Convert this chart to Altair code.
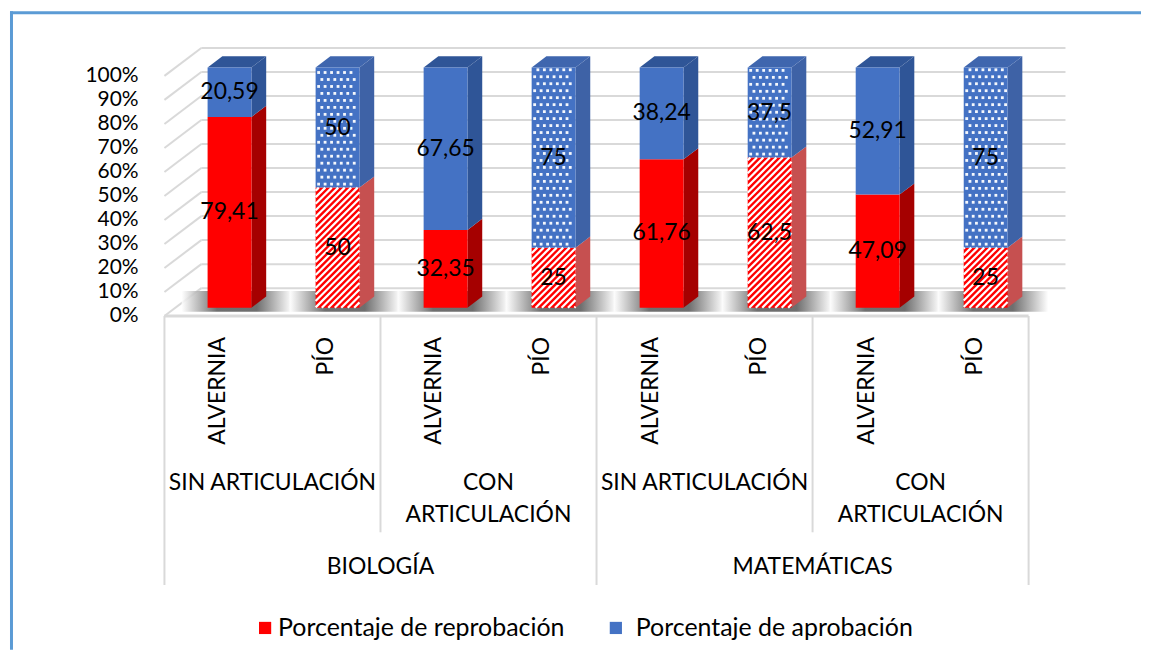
import altair as alt
import pandas as pd
import math

# ---------------- data ----------------
subjects = ["BIOLOGÍA", "MATEMÁTICAS"]
articulation = ["SIN ARTICULACIÓN", "CON\nARTICULACIÓN"]
schools = ["ALVERNIA", "PÍO"]
series = ["Porcentaje de reprobación", "Porcentaje de aprobación"]
reprobacion = [79.41, 50, 32.35, 25, 61.76, 62.5, 47.09, 25]
aprobacion = [20.59, 50, 67.65, 75, 38.24, 37.5, 52.91, 75]
y_ticks = [0, 10, 20, 30, 40, 50, 60, 70, 80, 90, 100]

# ---------------- geometry (3D projection constants) ----------------
W, H = 1135, 642
KX, KY = 108.4, 2.41          # px per category slot, px per percent
X0, Y0 = 163, 315             # page position of the front-left floor corner
XDOM = [(8 - X0) / KX, (8 + W - X0) / KX]
YDOM = [(Y0 - 8 - H) / KY, (Y0 - 8) / KY]
DX, DY = 37 / KX, 28 / KY     # full depth offset
HALF = 22 / KX                # half bar width
DF, DB = 0.3, 0.7             # bar front/back depth
FONT = "Lato"
FS = 23


def u(px):
    return (px - X0) / KX


def v(py):
    return (Y0 - py) / KY


COL_FRONT = {series[0]: "#FF0000", series[1]: "#4472C4"}
COL_SIDE = {series[0]: "#A50000", series[1]: "#2F5597"}
COL_SIDE_PAT = {series[0]: "#C65050", series[1]: "#3E62A6"}
COL_TOP = {series[0]: "#C00000", series[1]: "#2F5597"}
COL_TOP_PAT = {series[0]: "#D05050", series[1]: "#3F66AE"}

front, side, top, stripes, dots, labels, shadows = [], [], [], [], [], [], []


def make_stripes(x1, x2, y1, y2, step=6.5):
    a0, a1, b0, b1 = x1 * KX, x2 * KX, y1 * KY, y2 * KY
    c = math.ceil((b0 - a1) / step) * step
    while c < b1 - a0:
        xs = max(a0, b0 - c)
        xe = min(a1, b1 - c)
        if xe - xs > 0.5:
            stripes.append(dict(X=xs / KX, Y=(xs + c) / KY, X2=xe / KX, Y2=(xe + c) / KY))
        c += step


def make_dots(x1, x2, y1, y2, sx=6.5, sy=7.0):
    a0, a1, b0, b1 = x1 * KX, x2 * KX, y1 * KY, y2 * KY
    j = 0
    yy = b0 + sy / 2
    while yy < b1 - 2:
        xx = a0 + 3 + (sx / 2 if j % 2 else 0)
        while xx < a1 - 2:
            dots.append(dict(X=xx / KX, Y=yy / KY))
            xx += sx
        yy += sy
        j += 1


for i in range(8):
    uc = i + 0.5
    pat = schools[i % 2] == "PÍO"
    xl = uc - HALF + DF * DX
    xr = uc + HALF + DF * DX
    segs = [(series[0], 0.0, reprobacion[i]),
            (series[1], reprobacion[i], reprobacion[i] + aprobacion[i])]
    shadows.append(dict(X=xl - 26 / KX, X2=xr + 0.4 * DX + 26 / KX, Y=0.15 * DY, Y2=0.9 * DY))
    for s, lo, hi in segs:
        fid = f"{i}-{s}"
        front.append(dict(X=xl, X2=xr, Y=lo + DF * DY, Y2=hi + DF * DY, color=COL_FRONT[s]))
        sc = COL_SIDE_PAT[s] if pat else COL_SIDE[s]
        for d in (DF, DB):
            side.append(dict(face=fid, X=xr + (d - DF) * DX, Yt=hi + d * DY, Yb=lo + d * DY, color=sc))
        if hi >= 99.99:
            tc = COL_TOP_PAT[s] if pat else COL_TOP[s]
            for d in (DF, DB):
                top.append(dict(face=fid, Y=hi + d * DY, XL=xl + (d - DF) * DX,
                                XR=xr + (d - DF) * DX, color=tc))
        if pat:
            if s == series[0]:
                make_stripes(xl, xr, lo + DF * DY, hi + DF * DY)
            else:
                make_dots(xl, xr, lo + DF * DY, hi + DF * DY)
        val = hi - lo
        labels.append(dict(X=uc + DF * DX, Y=(lo + hi) / 2 + DF * DY,
                           text=f"{val:g}".replace(".", ",")))

front_df = pd.DataFrame(front)
side_df = pd.DataFrame(side)
top_df = pd.DataFrame(top)
stripes_df = pd.DataFrame(stripes)
dots_df = pd.DataFrame(dots)
labels_df = pd.DataFrame(labels)
shadows_df = pd.DataFrame(shadows)

grid_back = pd.DataFrame([dict(X=DX, X2=8 + DX, Y=t + DY, Y2=t + DY) for t in y_ticks])
grid_left = pd.DataFrame([dict(X=0, X2=DX, Y=t, Y2=t + DY) for t in y_ticks])
floor_front = pd.DataFrame([dict(X=0, X2=8, Y=0, Y2=0)])
dividers = pd.DataFrame(
    [dict(X=k, X2=k, Y=0, Y2=v(585) if k in (0, 4, 8) else v(532)) for k in (0, 2, 4, 6, 8)])

ytick_df = pd.DataFrame([dict(X=u(137), Y=t, text=f"{t}%") for t in y_ticks])
lvl1_df = pd.DataFrame([dict(X=i + 0.5, Y=v(336), text=schools[i % 2]) for i in range(8)])
lvl2 = []
for k in range(4):
    lines = articulation[k % 2].split("\n")
    for j, line in enumerate(lines):
        lvl2.append(dict(X=2 * k + 1, Y=v(483 + 32 * j), text=line))
lvl2_df = pd.DataFrame(lvl2)
lvl3_df = pd.DataFrame([dict(X=4 * j + 2, Y=v(567), text=subjects[j]) for j in range(2)])
legend_sq = pd.DataFrame([dict(X=u(264), Y=v(628), color=COL_FRONT[series[0]]),
                          dict(X=u(616), Y=v(628), color=COL_FRONT[series[1]])])
legend_tx = pd.DataFrame([dict(X=u(277), Y=v(628), text=series[0]),
                          dict(X=u(636), Y=v(628), text=series[1])])


# ---------------- encodings ----------------
def X(f="X", **kw):
    return alt.X(f"{f}:Q", scale=alt.Scale(domain=XDOM, nice=False, zero=False), axis=None, **kw)


def Y(f="Y", **kw):
    return alt.Y(f"{f}:Q", scale=alt.Scale(domain=YDOM, nice=False, zero=False), axis=None, **kw)


LITERAL = alt.Color("color:N", scale=None, legend=None)
GRID = "#D9D9D9"

rules_back = alt.Chart(grid_back).mark_rule(color=GRID, strokeWidth=2).encode(
    x=X(), x2="X2:Q", y=Y(), y2="Y2:Q")
rules_left = alt.Chart(grid_left).mark_rule(color=GRID, strokeWidth=2).encode(
    x=X(), x2="X2:Q", y=Y(), y2="Y2:Q")
floor_rule = alt.Chart(floor_front).mark_rule(color=GRID, strokeWidth=3).encode(
    x=X(), x2="X2:Q", y=Y(), y2="Y2:Q")
div_rules = alt.Chart(dividers).mark_rule(color=GRID, strokeWidth=2).encode(
    x=X(), x2="X2:Q", y=Y(), y2="Y2:Q")

shadow = alt.Chart(shadows_df).mark_rect(
    color=alt.LinearGradient(gradient="linear", x1=0, x2=1, y1=0, y2=0, stops=[
        alt.GradientStop(color="#FFFFFF", offset=0),
        alt.GradientStop(color="#555555", offset=0.32),
        alt.GradientStop(color="#555555", offset=0.68),
        alt.GradientStop(color="#FFFFFF", offset=1)]),
    opacity=0.85).encode(x=X(), x2="X2:Q", y=Y(), y2="Y2:Q")

sides = alt.Chart(side_df).mark_area(orient="vertical").encode(
    x=X(), y=Y("Yt", stack=None), y2="Yb:Q", detail="face:N", color=LITERAL)
tops = alt.Chart(top_df).mark_area(orient="horizontal").encode(
    y=Y(), x=X("XL", stack=None), x2="XR:Q", detail="face:N", color=LITERAL)
fronts = alt.Chart(front_df).mark_rect().encode(
    x=X(), x2="X2:Q", y=Y(), y2="Y2:Q", color=LITERAL)
stripe_layer = alt.Chart(stripes_df).mark_rule(color="white", strokeWidth=2.2).encode(
    x=X(), x2="X2:Q", y=Y(), y2="Y2:Q")
dot_layer = alt.Chart(dots_df).mark_square(color="white", size=8, opacity=0.95).encode(
    x=X(), y=Y())

txt = dict(font=FONT, fontSize=FS, color="#000000")
data_labels = alt.Chart(labels_df).mark_text(baseline="middle", align="center", **txt).encode(
    x=X(), y=Y(), text="text:N")
ytick_labels = alt.Chart(ytick_df).mark_text(baseline="middle", align="right", font=FONT,
                                             fontSize=21, color="#000000").encode(
    x=X(), y=Y(), text="text:N")
lvl1 = alt.Chart(lvl1_df).mark_text(angle=270, align="right", baseline="middle", **txt).encode(
    x=X(), y=Y(), text="text:N")
lvl2_l = alt.Chart(lvl2_df).mark_text(align="center", baseline="middle", **txt).encode(
    x=X(), y=Y(), text="text:N")
lvl3_l = alt.Chart(lvl3_df).mark_text(align="center", baseline="middle", **txt).encode(
    x=X(), y=Y(), text="text:N")
leg_sq = alt.Chart(legend_sq).mark_square(size=150, opacity=1).encode(
    x=X(), y=Y(), color=LITERAL)
leg_tx = alt.Chart(legend_tx).mark_text(align="left", baseline="middle", font=FONT,
                                        fontSize=25, color="#000000").encode(
    x=X(), y=Y(), text="text:N")

BORDER = "#5B9BD5"
border_left = alt.Chart(floor_front).mark_rule(color=BORDER, strokeWidth=3).encode(
    x=alt.value(1.5), y=alt.value(1.2), y2=alt.value(H))
border_top = alt.Chart(floor_front).mark_rule(color=BORDER, strokeWidth=3).encode(
    x=alt.value(0), x2=alt.value(W), y=alt.value(2.7))

chart = alt.layer(
    rules_back, rules_left, floor_rule, shadow, sides, tops, fronts, stripe_layer, dot_layer,
    data_labels, ytick_labels, div_rules, lvl1, lvl2_l, lvl3_l, leg_sq, leg_tx,
    border_left, border_top,
).properties(width=W, height=H, padding=0, background="white").configure_view(stroke=None)

chart.save("out.html", embed_options={"renderer": "svg", "actions": False})
